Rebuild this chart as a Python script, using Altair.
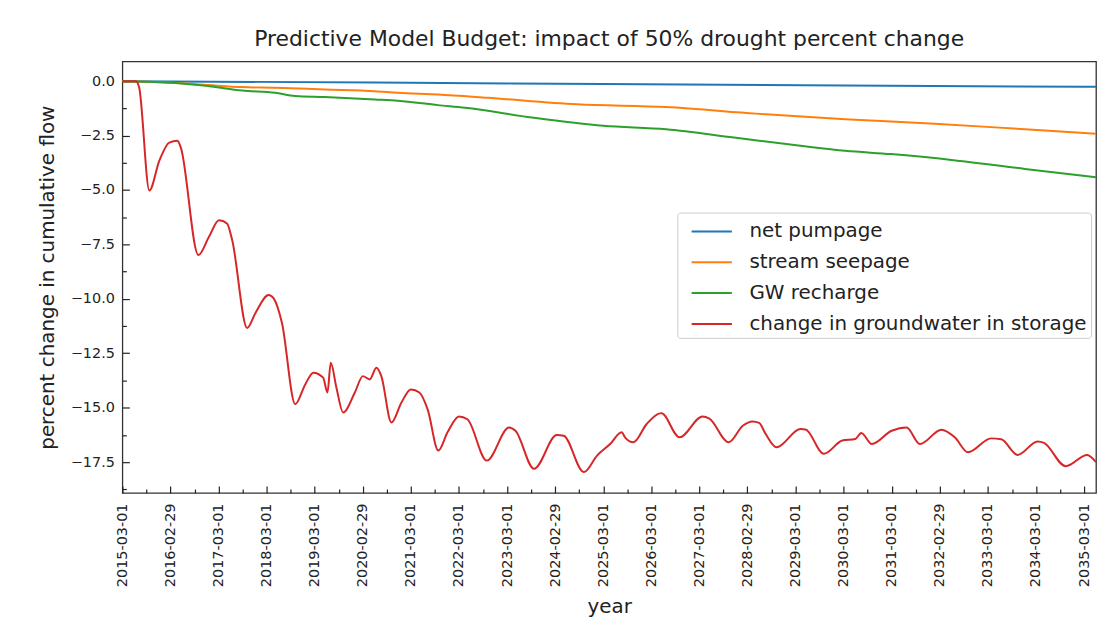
import altair as alt
import pandas as pd

series_names = ["net pumpage", "stream seepage", "GW recharge",
                "change in groundwater in storage"]
series_colors = ["#1f77b4", "#ff7f0e", "#2ca02c", "#d62728"]

pump_dates = ["2015-03-01", "2020-06-01", "2025-03-01", "2030-03-13", "2035-05-31"]
pump_vals = [0.0, -0.06, -0.13, -0.20, -0.26]

seep_dates = ["2015-03-01", "2016-04-10", "2016-12-18", "2017-08-28", "2018-05-04",
              "2019-05-16", "2020-06-01", "2020-11-22", "2021-09-22", "2022-10-04",
              "2024-08-13", "2026-06-22", "2028-05-04", "2030-03-13", "2032-01-22",
              "2033-12-07", "2035-05-31"]
seep_vals = [0.0, -0.08, -0.18, -0.27, -0.30, -0.38, -0.46, -0.53, -0.61, -0.76,
             -1.06, -1.19, -1.49, -1.75, -1.95, -2.21, -2.41]

rech_dates = ["2015-03-01", "2016-04-10", "2016-12-18", "2017-08-28", "2018-05-04",
              "2018-10-04", "2019-05-16", "2020-06-01", "2020-11-22", "2021-09-22",
              "2022-04-16", "2023-09-07", "2025-03-01", "2026-06-22", "2027-11-19",
              "2029-04-07", "2030-03-13", "2031-02-22", "2032-07-13", "2033-12-07",
              "2035-05-31"]
rech_vals = [0.0, -0.08, -0.23, -0.43, -0.53, -0.68, -0.73, -0.84, -0.90, -1.10,
             -1.22, -1.67, -2.05, -2.21, -2.59, -2.97, -3.20, -3.35, -3.65, -4.03,
             -4.41]

stor_dates = ["2015-03-01", "2015-06-12", "2015-07-07", "2015-09-22", "2015-12-07",
              "2016-02-20", "2016-04-22", "2016-05-18", "2016-09-28", "2016-12-18",
              "2017-03-04", "2017-05-04", "2017-06-12", "2017-10-04", "2017-12-06",
              "2018-03-16", "2018-04-22", "2018-06-25", "2018-10-04", "2018-12-19",
              "2019-02-19", "2019-05-04", "2019-06-06", "2019-07-01", "2019-08-13",
              "2019-10-03", "2019-12-31", "2020-03-01", "2020-04-22", "2020-06-12",
              "2020-07-19", "2020-10-04", "2020-12-19", "2021-03-01", "2021-05-04",
              "2021-07-07", "2021-09-25", "2021-12-04", "2022-03-01", "2022-05-04",
              "2022-09-28", "2023-03-16", "2023-05-04", "2023-09-22", "2024-03-13",
              "2024-05-04", "2024-10-04", "2025-01-13", "2025-04-22", "2025-07-19",
              "2025-08-13", "2025-10-16", "2026-01-25", "2026-05-16", "2026-10-01",
              "2027-03-25", "2027-05-16", "2027-10-10", "2028-01-25", "2028-04-07",
              "2028-05-28", "2028-07-16", "2028-10-07", "2029-04-07", "2029-05-16",
              "2029-10-01", "2030-02-19", "2030-05-28", "2030-07-13", "2030-10-01",
              "2031-03-01", "2031-06-22", "2031-10-01", "2032-03-13", "2032-06-22",
              "2032-10-01", "2033-03-25", "2033-06-10", "2033-10-13", "2034-03-13",
              "2034-05-01", "2034-10-13", "2035-03-25", "2035-05-31"]
stor_vals = [0.0, 0.0, -0.3, -5.02, -3.65, -2.82, -2.74, -3.05, -7.99, -7.15,
             -6.39, -6.54, -7.3, -11.34, -10.65, -9.82, -9.97, -11.1, -14.84, -13.93,
             -13.39, -13.62, -14.3, -12.94, -14.08, -15.22, -14.3, -13.55, -13.7, -13.17,
             -13.55, -15.68, -14.76, -14.16, -14.3, -15.1, -16.97, -16.13, -15.4, -15.53,
             -17.43, -15.91, -16.06, -17.81, -16.26, -16.29, -17.96, -17.2, -16.67, -16.13,
             -16.36, -16.59, -15.75, -15.25, -16.36, -15.4, -15.5, -16.59, -15.83, -15.63,
             -15.7, -16.2, -16.82, -15.98, -16.0, -17.12, -16.51, -16.44, -16.16, -16.67,
             -16.06, -15.91, -16.67, -16.01, -16.36, -17.05, -16.41, -16.45, -17.17, -16.55,
             -16.62, -17.69, -17.17, -17.5]

major_x_ticks = ["2015-03-01", "2016-02-29", "2017-03-01", "2018-03-01", "2019-03-01",
                 "2020-02-29", "2021-03-01", "2022-03-01", "2023-03-01", "2024-02-29",
                 "2025-03-01", "2026-03-01", "2027-03-01", "2028-02-29", "2029-03-01",
                 "2030-03-01", "2031-03-01", "2032-02-29", "2033-03-01", "2034-03-01",
                 "2035-03-01"]
minor_x_ticks = ["%d-08-31" % y for y in range(2015, 2035)]
major_y_ticks = [0.0, -2.5, -5.0, -7.5, -10.0, -12.5, -15.0, -17.5]
minor_y_ticks = [-1.25, -3.75, -6.25, -8.75, -11.25, -13.75, -16.25, -18.75]

x_domain = ["2015-03-01", "2035-05-31"]
y_domain = [-18.92, 0.91]

FONT = "DejaVu Sans"
INK = "#222222"


def dt(s):
    y, m, d = (int(p) for p in s.split("-"))
    return alt.DateTime(year=y, month=m, date=d, utc=True)


rows = []
for name, ds, vs in [(series_names[0], pump_dates, pump_vals),
                     (series_names[1], seep_dates, seep_vals),
                     (series_names[2], rech_dates, rech_vals),
                     (series_names[3], stor_dates, stor_vals)]:
    assert len(ds) == len(vs)
    for d, v in zip(ds, vs):
        rows.append({"date": d, "value": v, "series": name})
df = pd.DataFrame(rows)

xscale = alt.Scale(type="utc", domain=[dt(s) for s in x_domain], nice=False)
yscale = alt.Scale(domain=y_domain, nice=False, zero=False)

base = alt.Chart(df)

lines = base.mark_line(strokeWidth=2, interpolate="monotone").encode(
    x=alt.X("date:T", scale=xscale,
            axis=alt.Axis(orient="bottom", values=[dt(s) for s in major_x_ticks],
                          format="%Y-%m-%d", labelAngle=270, labelAlign="right",
                          labelBaseline="middle", labelFontSize=14.5, labelColor=INK,
                          labelPadding=10, ticks=False, domain=False, grid=False,
                          labelOverlap=False, title="year", titleFontSize=20,
                          titleFontWeight="normal", titleColor=INK, titlePadding=10)),
    y=alt.Y("value:Q", scale=yscale,
            axis=alt.Axis(orient="left", values=major_y_ticks, format=".1f",
                          labelFontSize=14.5, labelColor=INK, labelPadding=8,
                          ticks=False, domain=False, grid=False, labelOverlap=False,
                          title="percent change in cumulative flow", titleFontSize=20,
                          titleFontWeight="normal", titleColor=INK, titlePadding=13)),
    color=alt.Color("series:N",
                    scale=alt.Scale(domain=series_names, range=series_colors),
                    legend=alt.Legend(orient="none", legendX=558, legendY=152,
                                      title=None, symbolType="M-0.32,0H2.49",
                                      symbolSize=830, symbolStrokeWidth=2,
                                      labelFontSize=20, labelFont=FONT,
                                      labelColor=INK, labelOffset=38, padding=3.5,
                                      rowPadding=5, strokeColor="#cccccc",
                                      fillColor="rgba(255,255,255,0.85)",
                                      cornerRadius=3, labelLimit=500)),
)


def tick_layer(xvals, yvals, size):
    return base.mark_point(opacity=0).encode(
        x=alt.X("date:T", scale=xscale,
                axis=alt.Axis(orient="bottom", values=[dt(s) for s in xvals],
                              labels=False, domain=False, grid=False, tickSize=size,
                              offset=-size, tickColor=INK, tickWidth=1.2, title=None)),
        y=alt.Y("value:Q", scale=yscale,
                axis=alt.Axis(orient="left", values=yvals, labels=False, domain=False,
                              grid=False, tickSize=size, offset=-size, tickColor=INK,
                              tickWidth=1.2, title=None)),
    )


chart = alt.layer(
    lines,
    tick_layer(major_x_ticks, major_y_ticks, 7),
    tick_layer(minor_x_ticks, minor_y_ticks, 4),
).resolve_axis(x="independent", y="independent").properties(
    width=979, height=434,
    autosize=alt.AutoSizeParams(type="none"),
    padding={"left": 115, "top": 52, "right": 2, "bottom": 124},
    title=alt.Title("Predictive Model Budget: impact of 50% drought percent change",
                    fontSize=22, font=FONT, fontWeight="normal", color=INK,
                    anchor="middle", frame="group", offset=10),
).configure(background="white").configure_view(
    stroke="#333333", strokeWidth=1.3
).configure_axis(labelFont=FONT, titleFont=FONT)

chart.save("out.html", embed_options={"renderer": "svg", "actions": False})
